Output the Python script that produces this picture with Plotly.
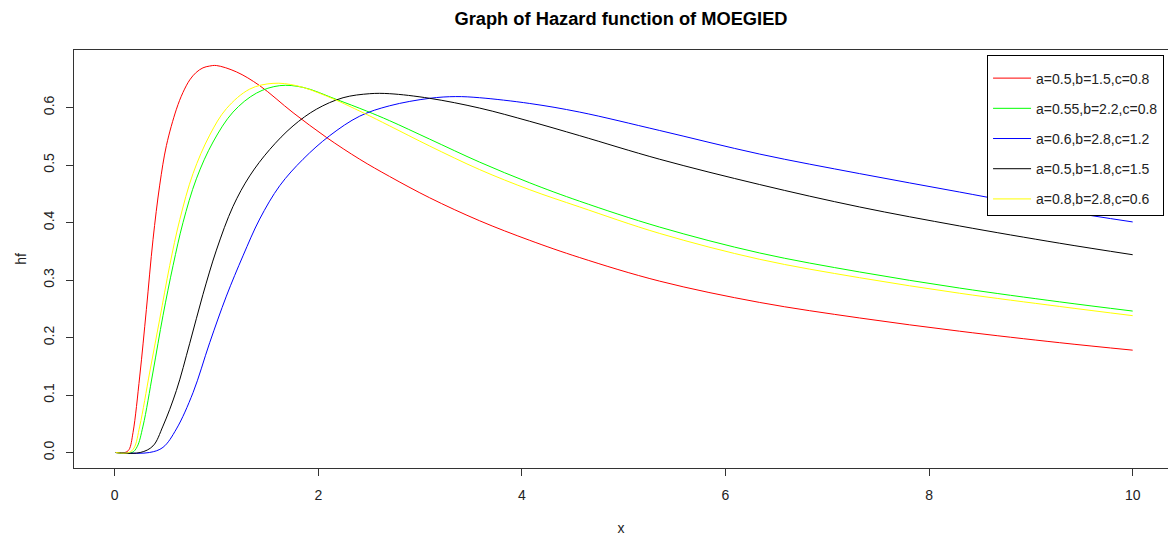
import plotly.graph_objects as go

# ---- data ----
x_red = [0.01, 0.10, 0.14, 0.18, 0.246, 0.311, 0.376, 0.442, 0.508, 0.606, 0.67, 0.737, 0.80, 0.867,
         0.93, 0.999, 1.195, 1.424, 1.752, 2.08, 2.407, 2.701, 3.094, 3.585, 4.077, 4.568, 5.354,
         6.336, 7.318, 8.3, 9.283, 10.0]
y_red = [0.0, 0.0, 0.005, 0.035, 0.133, 0.249, 0.370, 0.465, 0.534, 0.597, 0.626, 0.648, 0.661, 0.669,
         0.672, 0.673, 0.662, 0.638, 0.591, 0.548, 0.510, 0.480, 0.443, 0.403, 0.369, 0.339, 0.298,
         0.261, 0.234, 0.211, 0.191, 0.178]

x_green = [0.01, 0.17, 0.22, 0.278, 0.376, 0.474, 0.573, 0.671, 0.802, 0.966, 1.162, 1.392, 1.621,
           1.85, 2.178, 2.472, 2.701, 3.094, 3.585, 4.077, 4.568, 5.354, 6.336, 7.318, 8.3, 9.283, 10.0]
y_green = [0.0, 0.0, 0.01, 0.046, 0.14, 0.238, 0.325, 0.400, 0.476, 0.540, 0.592, 0.625, 0.638,
           0.635, 0.614, 0.594, 0.577, 0.545, 0.505, 0.469, 0.437, 0.392, 0.347, 0.314, 0.286, 0.262, 0.246]

x_blue = [0.01, 0.34, 0.474, 0.606, 0.769, 0.933, 1.097, 1.26, 1.424, 1.621, 1.85, 2.112, 2.407, 2.701,
          3.094, 3.35, 3.585, 4.077, 4.568, 5.354, 6.336, 7.318, 8.3, 9.283, 10.0]
y_blue = [0.0, 0.0, 0.009, 0.041, 0.104, 0.191, 0.272, 0.342, 0.406, 0.464, 0.510, 0.551, 0.585, 0.603,
          0.616, 0.619, 0.617, 0.607, 0.592, 0.560, 0.519, 0.485, 0.453, 0.421, 0.401]

x_black = [0.01, 0.25, 0.376, 0.474, 0.606, 0.737, 0.867, 0.999, 1.162, 1.326, 1.523, 1.752, 1.981,
           2.243, 2.505, 2.701, 3.094, 3.585, 4.077, 4.568, 5.354, 6.336, 7.318, 8.3, 9.283, 10.0]
y_black = [0.0, 0.0, 0.0115, 0.046, 0.108, 0.190, 0.275, 0.352, 0.428, 0.481, 0.527, 0.568, 0.597,
           0.617, 0.624, 0.624, 0.616, 0.599, 0.576, 0.551, 0.510, 0.466, 0.427, 0.394, 0.364, 0.344]

x_yellow = [0.01, 0.14, 0.19, 0.246, 0.344, 0.442, 0.540, 0.639, 0.769, 0.933, 1.097, 1.326, 1.555,
            1.785, 2.08, 2.439, 2.701, 3.094, 3.585, 4.077, 4.568, 5.354, 6.336, 7.318, 8.3, 9.283, 10.0]
y_yellow = [0.0, 0.0, 0.008, 0.046, 0.14, 0.232, 0.325, 0.405, 0.485, 0.552, 0.598, 0.632, 0.642,
            0.638, 0.620, 0.591, 0.568, 0.533, 0.492, 0.457, 0.427, 0.381, 0.336, 0.304, 0.277, 0.254, 0.238]

labels = ["a=0.5,b=1.5,c=0.8", "a=0.55,b=2.2,c=0.8", "a=0.6,b=2.8,c=1.2",
          "a=0.5,b=1.8,c=1.5", "a=0.8,b=2.8,c=0.6"]
colors = ["#ff0000", "#00ff00", "#0000ff", "#000000", "#ffff00"]
series_x = [x_red, x_green, x_blue, x_black, x_yellow]
series_y = [y_red, y_green, y_blue, y_black, y_yellow]

x_ticks = [0, 2, 4, 6, 8, 10]
y_ticks = [0.0, 0.1, 0.2, 0.3, 0.4, 0.5, 0.6]

fig = go.Figure()
for i, (xs, ys, lab, col) in enumerate(zip(series_x, series_y, labels, colors)):
    fig.add_trace(go.Scatter(x=xs, y=ys, mode="lines", name=lab, legendgroup=str(i),
                             line=dict(color=col, width=1, shape="spline", smoothing=1.0)))

font_family = "Liberation Sans, Arial, sans-serif"
fig.update_layout(
    width=1168, height=536,
    margin=dict(l=74, r=0, t=50, b=68),
    paper_bgcolor="white", plot_bgcolor="white",
    font=dict(family=font_family, size=14, color="#222"),
    title=dict(text="<b>Graph of Hazard function of MOEGIED</b>", x=0.5, xref="paper",
               xanchor="center", y=1 - 19 / 536, yref="container", yanchor="middle",
               font=dict(size=18.3, family=font_family, color="black")),
    legend=dict(x=0.8346, y=0.988, xanchor="left", yanchor="top", bgcolor="white",
                bordercolor="black", borderwidth=1, traceorder="grouped", tracegroupgap=9,
                itemwidth=38, title=dict(text=" ", font=dict(size=5)),
                font=dict(size=14, family=font_family, color="#222")),
    xaxis=dict(range=[-0.4, 10.347], tickvals=x_ticks, ticktext=[str(v) for v in x_ticks],
               ticks="outside", ticklen=7, tickcolor="#333", showline=True, linecolor="#333",
               linewidth=1, mirror=True, showgrid=False, zeroline=False,
               ticklabelstandoff=7, tickfont=dict(size=14),
               title=dict(text="x", standoff=22, font=dict(size=14))),
    yaxis=dict(range=[-0.0269, 0.700], tickvals=y_ticks, ticktext=[f"{v:.1f}" for v in y_ticks],
               ticks="outside", ticklen=7, tickcolor="#333", showline=True, linecolor="#333",
               linewidth=1, showgrid=False, zeroline=False, tickangle=-90,
               ticklabelstandoff=6, tickfont=dict(size=14),
               title=dict(text="hf", standoff=11, font=dict(size=14))),
)

fig.write_html("out.html", config={"displayModeBar": False},
               post_script="document.body.style.margin='0';")
